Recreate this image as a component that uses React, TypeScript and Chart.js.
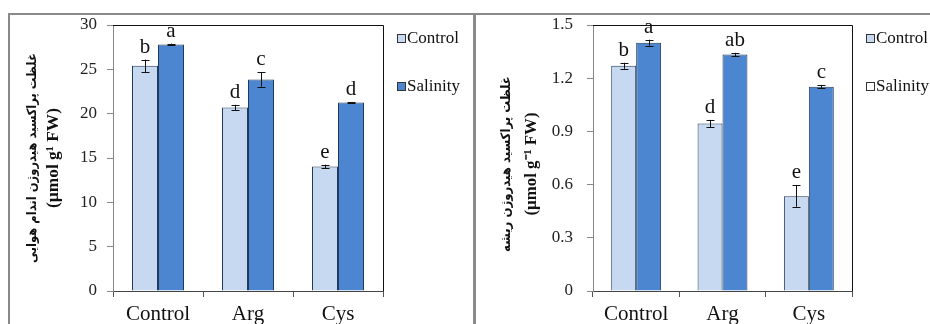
import React, { useEffect, useRef } from "react";
import { Chart, registerables } from "chart.js";

Chart.register(...registerables);

// ---------- data ----------
const categories = ["Control", "Arg", "Cys"];
const seriesNames = ["Control", "Salinity"];

const shootControl = [25.4, 20.7, 14.05];
const shootSalinity = [27.8, 23.85, 21.25];
const shootControlErr = [0.7, 0.3, 0.2];
const shootSalinityErr = [0.1, 0.8, 0.05];
const shootControlLetters = ["b", "d", "e"];
const shootSalinityLetters = ["a", "c", "d"];
const shootTitle = ["غلظت پراکسید هیدروژن اندام هوایی", "(µmol g¹ FW)"];
const shootMax = 30;
const shootStep = 5;

const rootControl = [1.27, 0.945, 0.535];
const rootSalinity = [1.4, 1.333, 1.152];
const rootControlErr = [0.017, 0.02, 0.06];
const rootSalinityErr = [0.017, 0.01, 0.01];
const rootControlLetters = ["b", "d", "e"];
const rootSalinityLetters = ["a", "ab", "c"];
const rootTitle = ["غلظت پراکسید هیدروژن ریشه", "(µmol g⁻¹ FW)"];
const rootMax = 1.5;
const rootStep = 0.3;

// ---------- styles ----------
const SERIF = '"Liberation Serif", "Times New Roman", serif';
const TITLE_FONT = '"DejaVu Sans Condensed", "DejaVu Sans", "Liberation Serif", serif';
const LIGHT = "#c6d9f0";
const DARK = "#4d86d0";
const BAR_BORDER = "#22395a";

const errorBarsPlugin = {
  id: "errorBars",
  afterDatasetsDraw(chart: any) {
    const ctx = chart.ctx;
    const y = chart.scales.y;
    chart.data.datasets.forEach((ds: any, di: number) => {
      const meta = chart.getDatasetMeta(di);
      meta.data.forEach((bar: any, i: number) => {
        const v = ds.data[i];
        const e = ds.errors[i];
        const yTop = y.getPixelForValue(v + e);
        const yBot = y.getPixelForValue(v - e);
        const x = Math.round(bar.x) + 0.5;
        ctx.save();
        ctx.strokeStyle = "#111";
        ctx.lineWidth = 1;
        ctx.beginPath();
        ctx.moveTo(x, yTop);
        ctx.lineTo(x, yBot);
        ctx.moveTo(x - 4, Math.round(yTop) + 0.5);
        ctx.lineTo(x + 4, Math.round(yTop) + 0.5);
        ctx.moveTo(x - 4, Math.round(yBot) + 0.5);
        ctx.lineTo(x + 4, Math.round(yBot) + 0.5);
        ctx.stroke();
        ctx.fillStyle = "#111";
        ctx.font = `21px ${SERIF}`;
        ctx.textAlign = "center";
        ctx.textBaseline = "alphabetic";
        ctx.fillText(ds.letters[i], bar.x, yTop - 7);
        ctx.restore();
      });
    });
  },
};

const framePlugin = {
  id: "frame",
  afterDraw(chart: any) {
    const { ctx, chartArea } = chart;
    ctx.save();
    ctx.strokeStyle = "#111";
    ctx.lineWidth = 1;
    ctx.beginPath();
    ctx.moveTo(chartArea.left, chartArea.top + 0.5);
    ctx.lineTo(chartArea.right + 0.5, chartArea.top + 0.5);
    ctx.lineTo(chartArea.right + 0.5, chartArea.bottom);
    ctx.stroke();
    ctx.restore();
  },
};

const legendPlugin = {
  id: "customLegend",
  afterDraw(chart: any) {
    const { ctx, chartArea } = chart;
    const swatches = chart.options.plugins.customLegend.swatches;
    const x0 = chartArea.right + 14;
    const ys = [22, 70];
    ctx.save();
    chart.data.datasets.forEach((ds: any, i: number) => {
      const cy = ys[i];
      ctx.fillStyle = swatches[i];
      ctx.fillRect(x0, cy - 4, 8, 8);
      ctx.strokeStyle = "#333";
      ctx.lineWidth = 1;
      ctx.strokeRect(x0 + 0.5, cy - 3.5, 8, 8);
      ctx.fillStyle = "#111";
      ctx.font = `17px ${SERIF}`;
      ctx.textAlign = "left";
      ctx.textBaseline = "middle";
      ctx.fillText(ds.label, x0 + 10, cy + 1);
    });
    ctx.restore();
  },
};

// axis title drawn as two rotated lines with their own fonts
const axisTitlePlugin = {
  id: "axisTitle",
  afterDraw(chart: any) {
    const { ctx, chartArea } = chart;
    const o = chart.options.plugins.axisTitle;
    const cy = (chartArea.top + chartArea.bottom) / 2 + o.dy;
    const lines = [
      { text: o.text[0], x: o.x[0], len: o.len[0], family: TITLE_FONT, weight: "bold" },
      { text: o.text[1], x: o.x[1], len: o.len[1], family: SERIF, weight: "bold" },
    ];
    lines.forEach((l) => {
      ctx.save();
      ctx.font = `${l.weight} 20px ${l.family}`;
      const w = ctx.measureText(l.text).width;
      const size = (20 * l.len) / w;
      ctx.font = `${l.weight} ${size.toFixed(2)}px ${l.family}`;
      ctx.translate(l.x, cy);
      ctx.rotate(-Math.PI / 2);
      ctx.fillStyle = "#111";
      ctx.textAlign = "center";
      ctx.textBaseline = "middle";
      ctx.fillText(l.text, 0, 0);
      ctx.restore();
    });
  },
};

type PanelProps = {
  left: number;
  top: number;
  width: number;
  height: number;
  yWidth: number;
  rightPad: number;
  control: number[];
  salinity: number[];
  controlErr: number[];
  salinityErr: number[];
  controlLetters: string[];
  salinityLetters: string[];
  title: string[];
  titleX: number[];
  titleLen: number[];
  titleDy: number;
  max: number;
  step: number;
  swatches: string[];
  tickPad: number;
};

function Panel(p: PanelProps) {
  const ref = useRef<HTMLCanvasElement>(null);
  useEffect(() => {
    const chart = new Chart(ref.current!, {
      type: "bar",
      data: {
        labels: categories,
        datasets: [
          {
            label: seriesNames[0],
            data: p.control,
            errors: p.controlErr,
            letters: p.controlLetters,
            backgroundColor: LIGHT,
            borderColor: BAR_BORDER,
            borderWidth: 1,
            categoryPercentage: 0.578,
            barPercentage: 1,
          } as any,
          {
            label: seriesNames[1],
            data: p.salinity,
            errors: p.salinityErr,
            letters: p.salinityLetters,
            backgroundColor: DARK,
            borderColor: BAR_BORDER,
            borderWidth: 1,
            categoryPercentage: 0.578,
            barPercentage: 1,
          } as any,
        ],
      },
      options: {
        animation: false,
        responsive: false,
        maintainAspectRatio: false,
        layout: { padding: { left: 0, right: p.rightPad, top: 9, bottom: 0 } },
        plugins: {
          legend: { display: false },
          tooltip: { enabled: false },
          customLegend: { swatches: p.swatches },
          axisTitle: { text: p.title, x: p.titleX, len: p.titleLen, dy: p.titleDy },
        } as any,
        scales: {
          x: {
            ticks: { color: "#111", font: { family: SERIF, size: 21 }, padding: 5 },
            grid: { drawOnChartArea: false, drawTicks: true, tickLength: 6, color: "#555", offset: true },
            border: { color: "#444", width: 1 },
            afterFit: (s: any) => {
              s.height = 33;
            },
          },
          y: {
            min: 0,
            max: p.max,
            ticks: {
              stepSize: p.step,
              color: "#222",
              font: { family: SERIF, size: 17 },
              padding: p.tickPad,
              callback: (v: any) => String(+Number(v).toFixed(1)),
            },
            grid: { drawOnChartArea: false, drawTicks: true, tickLength: 6, color: "#888" },
            border: { color: "#888", width: 1 },
            afterFit: (s: any) => {
              s.width = p.yWidth;
              s.paddingTop = 0;
              s.paddingBottom = 0;
            },
          },
        },
      },
      plugins: [errorBarsPlugin, framePlugin, legendPlugin, axisTitlePlugin],
    });
    return () => chart.destroy();
  }, []);
  return (
    <canvas
      ref={ref}
      width={p.width}
      height={p.height}
      style={{ position: "absolute", left: p.left, top: p.top, width: p.width, height: p.height }}
    />
  );
}

export default function App() {
  return (
    <div
      style={{
        position: "fixed",
        left: 0,
        top: 0,
        width: 930,
        height: 324,
        background: "#fff",
        overflow: "hidden",
      }}
    >
      <div style={{ position: "absolute", left: 8, top: 13, width: 922, height: 2, background: "#8a8a8a" }} />
      <div style={{ position: "absolute", left: 8, top: 13, width: 2, height: 311, background: "#8a8a8a" }} />
      <div style={{ position: "absolute", left: 473, top: 13, width: 3, height: 311, background: "#8a8a8a" }} />
      <Panel
        left={9}
        top={16}
        width={464}
        height={308}
        yWidth={104}
        rightPad={90}
        control={shootControl}
        salinity={shootSalinity}
        controlErr={shootControlErr}
        salinityErr={shootSalinityErr}
        controlLetters={shootControlLetters}
        salinityLetters={shootSalinityLetters}
        title={shootTitle}
        titleX={[24, 45]}
        titleLen={[210, 100]}
        titleDy={0}
        max={shootMax}
        step={shootStep}
        swatches={[LIGHT, DARK]}
        tickPad={10}
      />
      <Panel
        left={476}
        top={16}
        width={454}
        height={308}
        yWidth={117}
        rightPad={78}
        control={rootControl}
        salinity={rootSalinity}
        controlErr={rootControlErr}
        salinityErr={rootSalinityErr}
        controlLetters={rootControlLetters}
        salinityLetters={rootSalinityLetters}
        title={rootTitle}
        titleX={[31, 56]}
        titleLen={[176, 103]}
        titleDy={6}
        max={rootMax}
        step={rootStep}
        swatches={[LIGHT, "#ffffff"]}
        tickPad={14}
      />
    </div>
  );
}
